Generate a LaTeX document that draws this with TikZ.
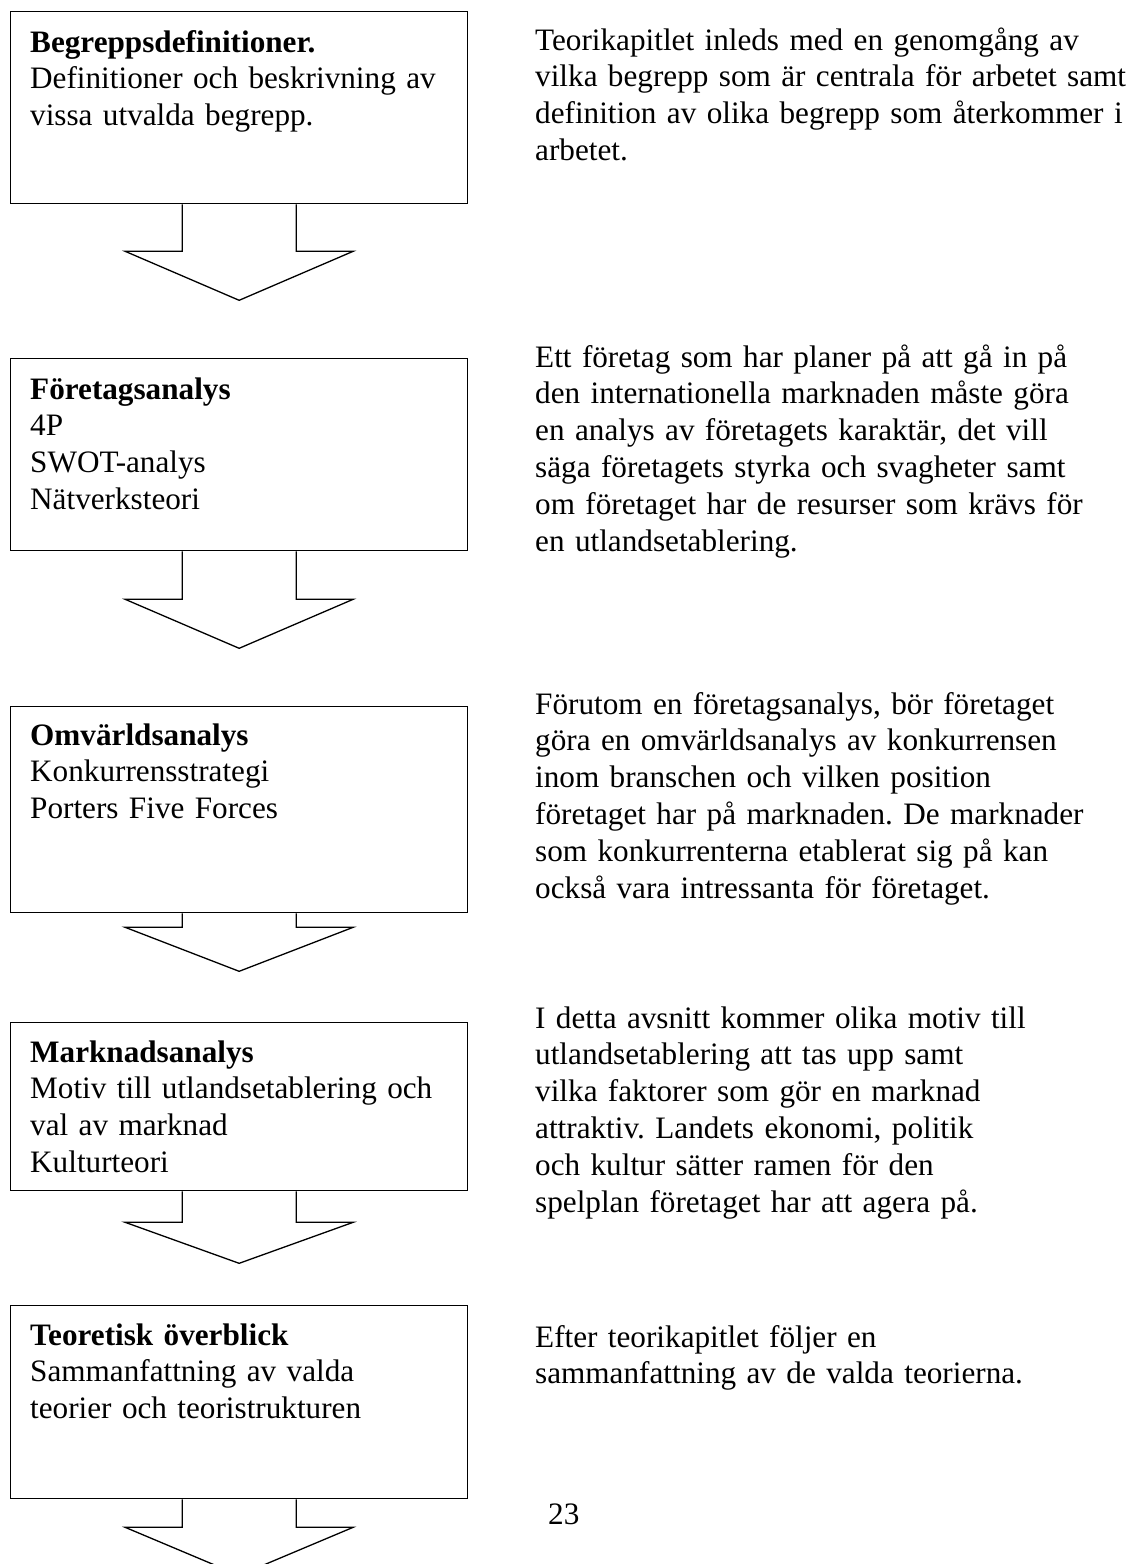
\documentclass[tikz,border=0pt]{standalone}
\usepackage{fontspec}
\setmainfont{Liberation Serif}
\usetikzlibrary{calc}
\tikzset{
  box/.style={draw=black, line width=1.3pt, rectangle, minimum width=457pt, inner sep=0pt, anchor=north west},
  txt/.style={anchor=base west, inner sep=0pt, align=left, text width=620pt, font=\fontsize{31.2}{36.8}\selectfont\frenchspacing},
  blockarr/.style={draw=black, line width=1.3pt, fill=white, line join=miter}
}
\newcommand\blockarrow[3]{%
  \draw[blockarr] ($(#1.south)+(-57,0)$) -- ++(0,#2) -- ++(-57,0) -- ($(#1.south)+(0,#3)$)
    -- ($(#1.south)+(114,#2)$) -- ++(-57,0) -- ($(#1.south)+(57,0)$);}
\begin{document}
\begin{tikzpicture}[x=1pt,y=-1pt]
\useasboundingbox (0,0) rectangle (1127,1564);
% boxes
\node[box, minimum height=192pt] (b1) at (10,11) {};
\node[box, minimum height=192pt] (b2) at (10,358) {};
\node[box, minimum height=206pt] (b3) at (10,706) {};
\node[box, minimum height=168pt] (b4) at (10,1022) {};
\node[box, minimum height=193pt] (b5) at (10,1305) {};
% box texts
\node[txt] (t1) at (30,52) {\textbf{Begreppsdefinitioner.}\\Definitioner och beskrivning av\\vissa utvalda begrepp.};
\node[txt] (t2) at (30,399) {\textbf{Företagsanalys}\\4P\\SWOT-analys\\Nätverksteori};
\node[txt] (t3) at (30,745) {\textbf{Omvärldsanalys}\\Konkurrensstrategi\\Porters Five Forces};
\node[txt] (t4) at (30,1062) {\textbf{Marknadsanalys}\\Motiv till utlandsetablering och\\val av marknad\\Kulturteori};
\node[txt] (t5) at (30,1345) {\textbf{Teoretisk överblick}\\Sammanfattning av valda\\teorier och teoristrukturen};
% block arrows
\blockarrow{b1}{47}{96}
\blockarrow{b2}{48}{97}
\blockarrow{b3}{14}{58}
\blockarrow{b4}{31}{72}
\blockarrow{b5}{28}{76}
% right texts
\node[txt] (r1) at (535,50) {Teorikapitlet inleds med en genomgång av\\vilka begrepp som är centrala för arbetet samt\\definition av olika begrepp som återkommer i\\arbetet.};
\node[txt] (r2) at (535,367) {Ett företag som har planer på att gå in på\\den internationella marknaden måste göra\\en analys av företagets karaktär, det vill\\säga företagets styrka och svagheter samt\\om företaget har de resurser som krävs för\\en utlandsetablering.};
\node[txt] (r3) at (535,714) {Förutom en företagsanalys, bör företaget\\göra en omvärldsanalys av konkurrensen\\inom branschen och vilken position\\företaget har på marknaden. De marknader\\som konkurrenterna etablerat sig på kan\\också vara intressanta för företaget.};
\node[txt] (r4) at (535,1028) {I detta avsnitt kommer olika motiv till\\utlandsetablering att tas upp samt\\vilka faktorer som gör en marknad\\attraktiv. Landets ekonomi, politik\\och kultur sätter ramen för den\\spelplan företaget har att agera på.};
\node[txt] (r5) at (535,1347) {Efter teorikapitlet följer en\\sammanfattning av de valda teorierna.};
\node[txt, text width=100pt] (pg) at (548,1524) {23};
\end{tikzpicture}
\end{document}
